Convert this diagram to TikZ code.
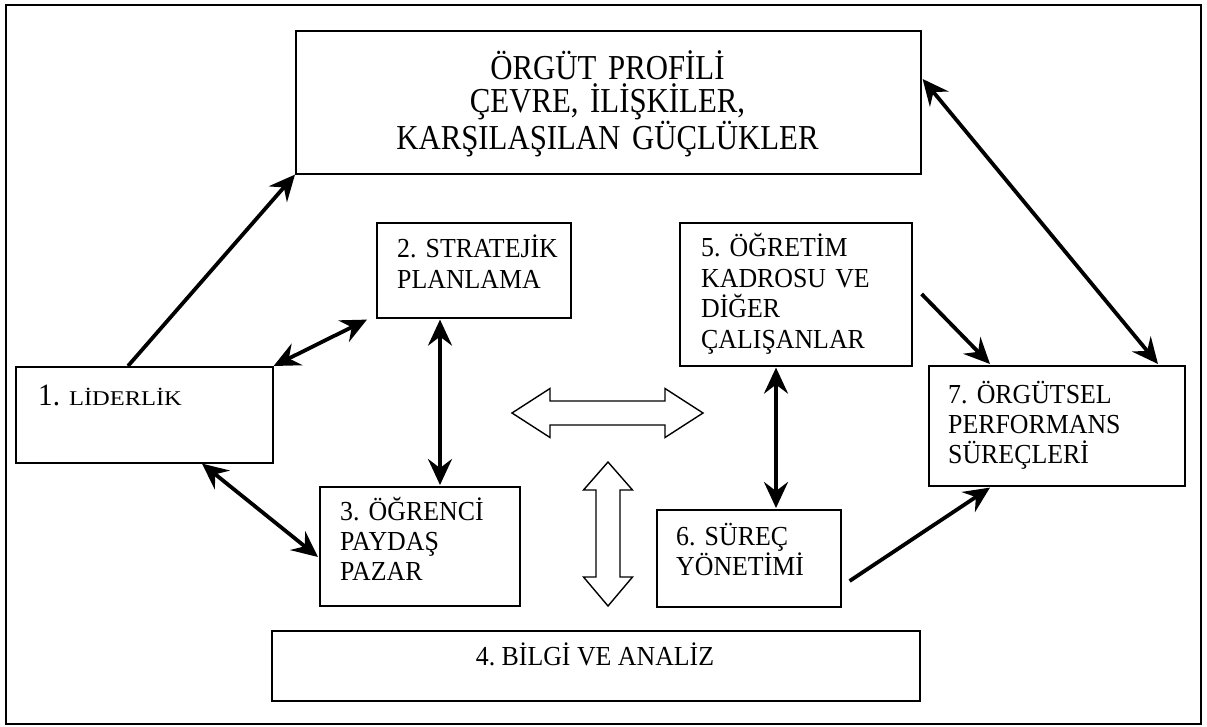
\documentclass[tikz,border=0pt]{standalone}
\usepackage{fontspec}
\usepackage{graphicx}
\setmainfont{Liberation Serif}
\newfontfamily\tallfont[FakeStretch=0.94]{Liberation Serif}
\newfontfamily\tallerfont[FakeStretch=0.88]{Liberation Serif}
\frenchspacing
\usetikzlibrary{arrows.meta,calc}
\tikzset{
  boxnode/.style={draw, line width=1.6pt, inner sep=0pt, anchor=north west},
  boxtext/.style={inner sep=0pt, anchor=base west, text width=260pt, align=left,
                  font=\tallfont\fontsize{27.5}{30.4}\selectfont},
  conn/.style={line width=3.8pt, -{Stealth[length=26pt,width=24pt,inset=9pt]}},
  dconn/.style={line width=3.8pt, {Stealth[length=26pt,width=24pt,inset=9pt]}-{Stealth[length=26pt,width=24pt,inset=9pt]}},
  hollow/.style={draw, line width=1.4pt, fill=white, line join=miter}
}
\begin{document}
\begin{tikzpicture}[x=1pt,y=-1pt]
\useasboundingbox (0,0) rectangle (1207,727);
\draw[line width=1.6pt] (6,5) rectangle (1201,724);

% boxes
\node[boxnode, minimum width=625, minimum height=143] (prof) at (295,30) {};
\node[boxnode, minimum width=257, minimum height=96]  (lid)  at (15,366) {};
\node[boxnode, minimum width=194, minimum height=95]  (strat) at (376,222) {};
\node[boxnode, minimum width=200, minimum height=119] (ogr)  at (319,486) {};
\node[boxnode, minimum width=648, minimum height=70]  (bilgi) at (271,630) {};
\node[boxnode, minimum width=232, minimum height=143] (ogt)  at (679,222) {};
\node[boxnode, minimum width=184, minimum height=97]  (surec) at (656,509) {};
\node[boxnode, minimum width=256, minimum height=120] (org)  at (928,365) {};

% texts
\node[inner sep=0pt, anchor=base, text width=600, align=center,
      font=\tallerfont\fontsize{35}{33}\selectfont] (tprof) at (607.5,80)
  {ÖRGÜT PROFİLİ\\ÇEVRE, İLİŞKİLER,\\KARŞILAŞILAN GÜÇLÜKLER};
\node[inner sep=0pt, anchor=base west] (tlid) at (38,405)
  {\tallfont\fontsize{31}{34}\selectfont 1.\hspace{9pt}\scalebox{1.24}[1]{\fontsize{21}{24}\selectfont LİDERLİK}};
\node[boxtext] (tstrat) at (397,258) {2. STRATEJİK\\PLANLAMA};
\node[boxtext] (togr) at (340,520) {3. ÖĞRENCİ\\PAYDAŞ\\PAZAR};
\node[inner sep=0pt, anchor=base, font=\tallfont\fontsize{27.5}{30}\selectfont] (tbilgi) at (595,665) {4. BİLGİ VE ANALİZ};
\node[boxtext] (togt) at (701,257) {5. ÖĞRETİM\\KADROSU VE\\DİĞER\\ÇALIŞANLAR};
\node[boxtext] (tsurec) at (676,545) {6. SÜREÇ\\YÖNETİMİ};
\node[boxtext] (torg) at (948,403) {7. ÖRGÜTSEL\\PERFORMANS\\SÜREÇLERİ};

% connectors
\draw[conn]  ($(lid.north west)+(113,0)$) -- (prof.south west);
\draw[dconn] (lid.north east) -- ($(strat.south west)+(-9,1)$);
\draw[dconn] ($(strat.south west)+(64,1)$) -- ($(ogr.north west)+(121,-1)$);
\draw[dconn] ($(lid.south west)+(187,0)$) -- ($(ogr.north west)+(-1,71)$);
\draw[dconn] ($(ogt.south west)+(97,1)$) -- ($(surec.north west)+(120,-1)$);
\draw[conn]  ($(ogt.north east)+(9,72)$) -- ($(org.north west)+(62,-1)$);
\draw[dconn] ($(prof.north east)+(1,49)$) -- ($(org.north west)+(230,-1)$);
\draw[conn]  ($(surec.north east)+(8,72)$) -- ($(org.south west)+(62,1)$);

% hollow double arrows
\draw[hollow] (512,413) -- (550,388.5) -- (550,401) -- (665,401) -- (665,388.5)
  -- (703,413) -- (665,437.5) -- (665,425) -- (550,425) -- (550,437.5) -- cycle;
\draw[hollow] (608,462) -- (632.5,490) -- (620,490) -- (620,577) -- (632.5,577)
  -- (608,606) -- (583.5,577) -- (596,577) -- (596,490) -- (583.5,490) -- cycle;
\end{tikzpicture}
\end{document}
